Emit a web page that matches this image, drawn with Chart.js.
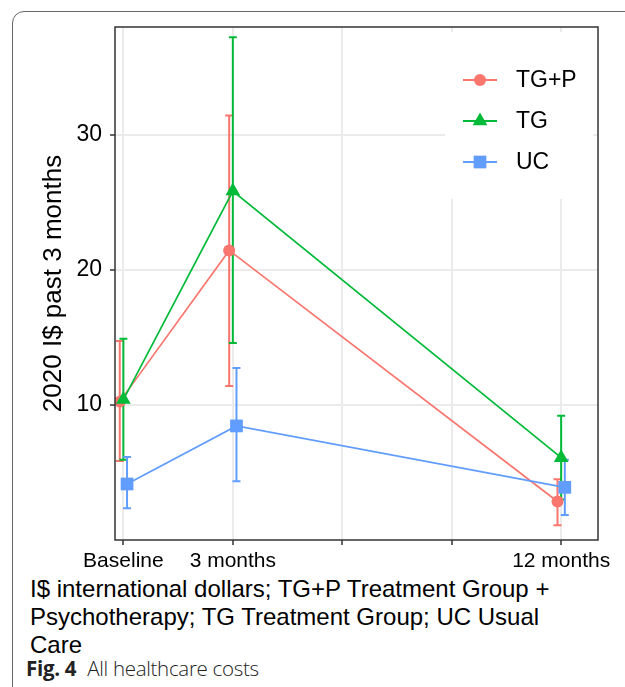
<!DOCTYPE html>
<html>
<head>
<meta charset="utf-8">
<script src="https://cdn.jsdelivr.net/npm/chart.js@4.4.1/dist/chart.umd.min.js"></script>
<style>
  html, body { margin: 0; padding: 0; background: #fff; width: 625px; height: 687px; overflow: hidden; }
  .frame { position: absolute; left: 12px; top: 11px; width: 700px; height: 800px;
           border: 1px solid #666; border-top-left-radius: 12px; box-sizing: border-box; }
  #myChart { position: absolute; left: 0; top: 0; }
  .note { position: absolute; left: 30px; top: 575px; font-family: 'Liberation Sans', Arial, sans-serif;
          font-size: 24px; line-height: 28px; color: #000; }
  .fig { position: absolute; left: 26px; top: 654px; font-family: 'Open Sans', sans-serif;
         font-size: 20.5px; line-height: 28px; color: #222; letter-spacing: -0.3px; }
  .fig b { font-weight: 700; margin-right: 11px; }
  .fig span { font-weight: 300; }
</style>
</head>
<body>
<div class="frame"></div>
<canvas id="myChart" width="625" height="575"></canvas>
<div class="note">I$ international dollars; TG+P Treatment Group +<br>Psychotherapy; TG Treatment Group; UC Usual<br>Care</div>
<div class="fig"><b>Fig. 4</b><span>All healthcare costs</span></div>

<script>
// time points in months and axis ticks
const months = [0, 3, 12];
const xTickValues = [0, 3, 6, 9, 12];
const xTickLabels = ['Baseline', '3 months', '', '', '12 months'];
const yTickValues = [10, 20, 30];
const groupNames = ['TG+P', 'TG', 'UC'];

// mean costs with lower / upper error bars (2020 I$)
const tgpMean = [10.25, 21.45, 2.85];
const tgpLow = [5.85, 11.4, 1.1];
const tgpHigh = [14.75, 31.45, 4.5];

const tgMean = [10.4, 25.85, 6.1];
const tgLow = [5.95, 14.6, 3.0];
const tgHigh = [14.9, 37.25, 9.2];

const ucMean = [4.15, 8.45, 3.9];
const ucLow = [2.35, 4.35, 1.85];
const ucHigh = [6.15, 12.75, 5.95];

const colors = ['#F8766D', '#00BA38', '#619CFF'];
const shapes = ['circle', 'triangle', 'rect'];
const radii = [6, 8.5, 9];
const dodge = [-0.1, 0, 0.1]; // position_dodge in months

const means = [tgpMean, tgMean, ucMean];
const lows = [tgpLow, tgLow, ucLow];
const highs = [tgpHigh, tgHigh, ucHigh];

Chart.defaults.font.family = "'Liberation Sans', Arial, sans-serif";
Chart.defaults.color = '#000';

function drawMarker(ctx, shape, x, y, r) {
  ctx.beginPath();
  if (shape === 'circle') {
    ctx.arc(x, y, r, 0, Math.PI * 2);
  } else if (shape === 'triangle') {
    for (let k = 0; k < 3; k++) {
      const a = k * 2 * Math.PI / 3;
      const px = x + Math.sin(a) * r, py = y - Math.cos(a) * r;
      if (k === 0) ctx.moveTo(px, py); else ctx.lineTo(px, py);
    }
    ctx.closePath();
  } else {
    const s = Math.SQRT1_2 * r;
    ctx.rect(x - s, y - s, 2 * s, 2 * s);
  }
  ctx.fill();
}

// vertical error bars with caps
const errorBars = {
  id: 'errorBars',
  beforeDatasetsDraw(chart) {
    const ctx = chart.ctx, xs = chart.scales.x, ys = chart.scales.y;
    ctx.save();
    chart.data.datasets.forEach((ds, i) => {
      ctx.strokeStyle = ds.borderColor;
      ctx.lineWidth = 2;
      ds.data.forEach((p, j) => {
        const x = xs.getPixelForValue(p.x);
        const y1 = ys.getPixelForValue(lows[i][j]);
        const y2 = ys.getPixelForValue(highs[i][j]);
        ctx.beginPath();
        ctx.moveTo(x, y1); ctx.lineTo(x, y2);
        ctx.moveTo(x - 4, y1); ctx.lineTo(x + 4, y1);
        ctx.moveTo(x - 4, y2); ctx.lineTo(x + 4, y2);
        ctx.stroke();
      });
    });
    ctx.restore();
  }
};

// panel border and legend inside the panel
const panel = {
  id: 'panel',
  afterDraw(chart) {
    const ctx = chart.ctx, a = chart.chartArea;
    ctx.save();
    // legend box
    const bx = a.right - 153, by = a.top + 5;
    ctx.fillStyle = '#fff';
    ctx.fillRect(bx, by, 148, 167);
    chart.data.datasets.forEach((ds, i) => {
      const y = by + 48 + i * 41;
      ctx.strokeStyle = ds.borderColor;
      ctx.lineWidth = 2;
      ctx.beginPath();
      ctx.moveTo(bx + 18, y); ctx.lineTo(bx + 52, y);
      ctx.stroke();
      ctx.fillStyle = ds.borderColor;
      drawMarker(ctx, shapes[i], bx + 35, y, radii[i]);
      ctx.fillStyle = '#000';
      ctx.font = "23px 'Liberation Sans', Arial, sans-serif";
      ctx.textBaseline = 'middle';
      ctx.fillText(ds.label, bx + 71, y + 1);
    });
    ctx.strokeStyle = '#333';
    ctx.lineWidth = 1.5;
    ctx.strokeRect(a.left, a.top, a.right - a.left, a.bottom - a.top);
    ctx.restore();
  }
};

const datasets = groupNames.map((name, i) => ({
  label: name,
  data: months.map((m, j) => ({ x: m + dodge[i], y: means[i][j] })),
  borderColor: colors[i],
  backgroundColor: colors[i],
  borderWidth: 1.7,
  pointStyle: shapes[i],
  pointRadius: radii[i],
  pointBorderWidth: 0,
  pointHoverRadius: radii[i],
  order: 3 - i
}));

new Chart('myChart', {
  type: 'line',
  data: { datasets: datasets },
  options: {
    responsive: false,
    animation: false,
    devicePixelRatio: 1,
    layout: { padding: { top: 27, right: 27, left: 0, bottom: 0 } },
    plugins: { legend: { display: false }, tooltip: { enabled: false } },
    scales: {
      x: {
        type: 'linear',
        min: -0.23,
        max: 13.01,
        afterBuildTicks: axis => { axis.ticks = xTickValues.map(v => ({ value: v })); },
        afterFit: axis => { axis.height = 35; },
        ticks: {
          autoSkip: false,
          maxRotation: 0,
          padding: 4,
          font: { size: 21 },
          callback: v => xTickLabels[xTickValues.indexOf(v)]
        },
        grid: { color: '#EBEBEB', lineWidth: 2, tickColor: '#333', tickLength: 5, tickWidth: 1.5 },
        border: { display: false }
      },
      y: {
        min: 0,
        max: 38,
        afterBuildTicks: axis => { axis.ticks = yTickValues.map(v => ({ value: v })); },
        afterFit: axis => { axis.width = 115; },
        ticks: { padding: 8, font: { size: 23 } },
        grid: { color: '#EBEBEB', lineWidth: 2, tickColor: '#333', tickLength: 5, tickWidth: 1.5 },
        border: { display: false },
        title: {
          display: true,
          text: '2020 I$ past 3 months',
          font: { size: 26 },
          padding: { top: 38, bottom: 0 }
        }
      }
    }
  },
  plugins: [errorBars, panel]
});
</script>
</body>
</html>
